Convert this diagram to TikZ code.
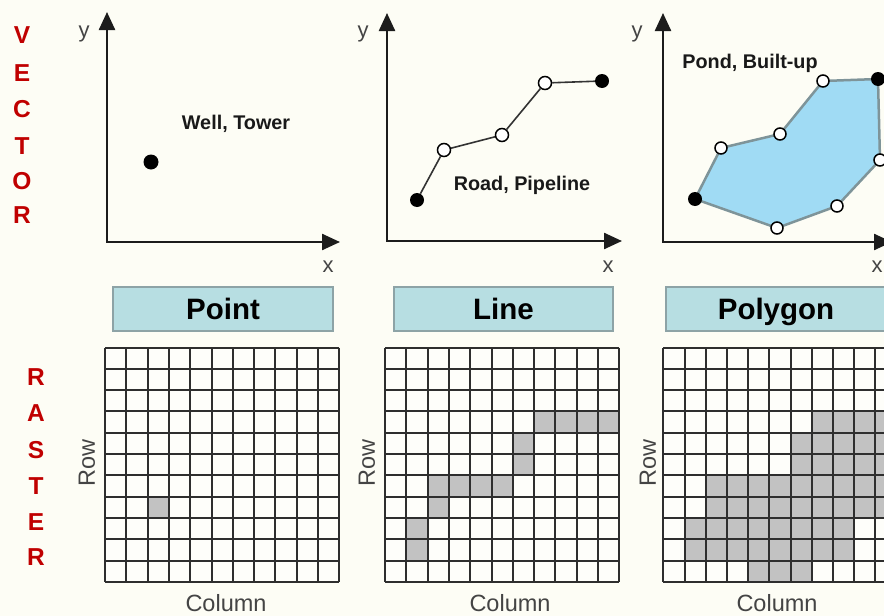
\documentclass[tikz,border=0pt]{standalone}
\usepackage{fontspec}
\setmainfont{Liberation Sans}
\usetikzlibrary{arrows.meta}
\definecolor{bgcol}{HTML}{FDFDF5}
\definecolor{cellcol}{HTML}{FEFEFA}
\definecolor{shadecol}{HTML}{C2C2C2}
\definecolor{gridcol}{HTML}{2E2E2E}
\definecolor{boxfill}{HTML}{B7DEE2}
\definecolor{boxedge}{HTML}{8DA3A6}
\definecolor{polyfill}{HTML}{A0DBF4}
\definecolor{polyedge}{HTML}{7E9499}
\definecolor{sidered}{HTML}{C00000}
\definecolor{labgray}{HTML}{444444}
\definecolor{axiscol}{HTML}{1C1C1C}
\begin{document}
\begin{tikzpicture}[x=1pt,y=-1pt,
  sidelet/.style={font=\fontsize{24.5}{26}\selectfont\bfseries, text=sidered, inner sep=0pt},
  vlabel/.style={font=\fontsize{19.8}{22}\selectfont\bfseries, text=black!90, inner sep=0pt},
  axlab/.style={font=\fontsize{22}{24}\selectfont, text=labgray, inner sep=0pt},
  rclab/.style={font=\fontsize{23.5}{25}\selectfont, text=labgray, inner sep=0pt},
  catbox/.style={draw=boxedge, line width=2pt, fill=boxfill, minimum height=44pt,
     text height=21pt, text depth=0pt, inner sep=0pt,
     font=\fontsize{29.5}{30}\selectfont\bfseries},
  axis/.style={draw=axiscol, line width=2.4pt, line join=miter,
     {Triangle[length=18pt,width=16pt]}-{Triangle[length=18pt,width=16pt]}},
  vfill/.style={circle, fill=black, inner sep=0pt, minimum size=14pt},
  vopen/.style={circle, draw=black, fill=white, line width=1.5pt, inner sep=0pt, minimum size=13pt},
  pedge/.style={draw=polyedge, line width=2.5pt},
  ledge/.style={draw=black!80, line width=1.6pt},
  gridln/.style={draw=gridcol, line width=2pt},
  shade/.style={fill=shadecol}]
\path[use as bounding box] (0,0) rectangle (884,616);
\clip (0,0) rectangle (884,616);
\fill[bgcol] (0,0) rectangle (884,616);

% side titles
\foreach \ch/\yy [count=\i] in {V/43.3, E/81, C/117.5, T/154, O/189.5, R/223}
  \node[sidelet, anchor=base] (vec\i) at (22,\yy) {\ch};
\foreach \ch/\yy [count=\i] in {R/385, A/421.7, S/458, T/494, E/530, R/565.5}
  \node[sidelet, anchor=base] (ras\i) at (36,\yy) {\ch};

% ---------- vector panel 1 ----------
\coordinate (o1) at (107,242);
\coordinate (yt1) at (107,12);
\coordinate (xt1) at (340,242);
\draw[axis] (yt1) -- (o1) -- (xt1);
\node[axlab, anchor=base] (ylab1) at (84,37) {y};
\node[axlab, anchor=base] (xlab1) at (328,272) {x};
\node[vfill, minimum size=15pt] (well) at (151,162) {};
\node[vlabel, anchor=base] (welltxt) at (236,129.5) {Well, Tower};

% ---------- vector panel 2 ----------
\coordinate (o2) at (387,241);
\coordinate (yt2) at (387,13);
\coordinate (xt2) at (622,241);
\draw[axis] (yt2) -- (o2) -- (xt2);
\node[axlab, anchor=base] (ylab2) at (363,37) {y};
\node[axlab, anchor=base] (xlab2) at (608,272) {x};
\node[vfill] (r1) at (417,200) {};
\node[vopen] (r2) at (444,150) {};
\node[vopen] (r3) at (502,135) {};
\node[vopen] (r4) at (545,83) {};
\node[vfill] (r5) at (602,81) {};
\draw[ledge] (r1) -- (r2) -- (r3) -- (r4) -- (r5);
\node[vlabel, anchor=base] (roadtxt) at (522,190) {Road, Pipeline};

% ---------- vector panel 3 ----------
\coordinate (o3) at (663,242);
\coordinate (yt3) at (663,13);
\coordinate (xt3) at (892,242);
\draw[axis] (yt3) -- (o3) -- (xt3);
\node[axlab, anchor=base] (ylab3) at (637,37) {y};
\node[axlab, anchor=base] (xlab3) at (877,272) {x};
\coordinate (c1) at (695,199);
\coordinate (c2) at (721,148);
\coordinate (c3) at (780,134);
\coordinate (c4) at (823,81);
\coordinate (c5) at (878,79);
\coordinate (c6) at (880,160);
\coordinate (c7) at (837,206);
\coordinate (c8) at (777,228);
\fill[polyfill] (c1) -- (c2) -- (c3) -- (c4) -- (c5) -- (c6) -- (c7) -- (c8) -- cycle;
\draw[pedge, line join=round] (c1) -- (c2) -- (c3) -- (c4) -- (c5) -- (c6) -- (c7) -- (c8) -- cycle;
\node[vfill] (q1) at (c1) {};
\node[vopen, minimum size=12pt] (q2) at (c2) {};
\node[vopen, minimum size=12pt] (q3) at (c3) {};
\node[vopen, minimum size=12pt] (q4) at (c4) {};
\node[vfill] (q5) at (c5) {};
\node[vopen, minimum size=12pt] (q6) at (c6) {};
\node[vopen, minimum size=12pt] (q7) at (c7) {};
\node[vopen, minimum size=12pt] (q8) at (c8) {};
\node[vlabel, anchor=base] (pondtxt) at (750,68) {Pond, Built-up};

% ---------- category boxes ----------
\node[catbox, minimum width=220pt] (point) at (223,309) {Point};
\node[catbox, minimum width=219pt] (line) at (503.5,309) {Line};
\node[catbox, minimum width=220pt] (polygon) at (776,309) {Polygon};

% ---------- raster grid 1 ----------
\fill[cellcol] (105,347.5) rectangle (339.3,581.8);
\foreach \c/\r in {2/7}
  \fill[shade] ({105+\c*21.3},{347.5+\r*21.3}) rectangle +(21.3,21.3);
\foreach \k in {0,...,11} {
  \draw[gridln] ({105+\k*21.3},347.5) -- ++(0,234.3);
  \draw[gridln] (105,{347.5+\k*21.3}) -- ++(234.3,0);
}
\node[rclab, rotate=90] (row1) at (87,463) {Row};
\node[rclab, anchor=base] (col1) at (226,611) {Column};

% ---------- raster grid 2 ----------
\fill[cellcol] (385,347.5) rectangle (619.3,581.8);
\foreach \c/\r in {7/3,8/3,9/3,10/3,6/4,6/5,2/6,3/6,4/6,5/6,2/7,1/8,1/9}
  \fill[shade] ({385+\c*21.3},{347.5+\r*21.3}) rectangle +(21.3,21.3);
\foreach \k in {0,...,11} {
  \draw[gridln] ({385+\k*21.3},347.5) -- ++(0,234.3);
  \draw[gridln] (385,{347.5+\k*21.3}) -- ++(234.3,0);
}
\node[rclab, rotate=90] (row2) at (367,463) {Row};
\node[rclab, anchor=base] (col2) at (510,611) {Column};

% ---------- raster grid 3 ----------
\fill[cellcol] (663.3,347.5) rectangle (896.5,581.8);
\foreach \r/\a/\b in {3/7/10, 4/6/10, 5/6/10, 6/2/10, 7/2/10, 8/1/8, 9/1/8, 10/4/6}
  \foreach \c in {\a,...,\b}
    \fill[shade] ({663.3+\c*21.2},{347.5+\r*21.3}) rectangle +(21.2,21.3);
\foreach \k in {0,...,11} {
  \draw[gridln] ({663.3+\k*21.2},347.5) -- ++(0,234.3);
  \draw[gridln] (663.3,{347.5+\k*21.3}) -- ++(233.2,0);
}
\node[rclab, rotate=90] (row3) at (648,463) {Row};
\node[rclab, anchor=base] (col3) at (777,611) {Column};
\end{tikzpicture}
\end{document}
